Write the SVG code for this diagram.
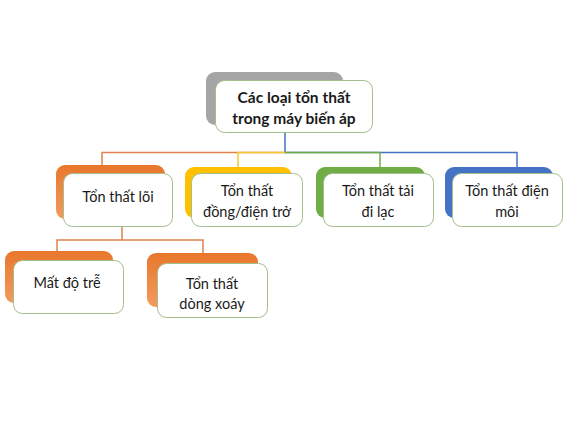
<svg xmlns="http://www.w3.org/2000/svg" width="570" height="428" viewBox="0 0 570 428">
<defs>
<linearGradient id="og" x1="0" y1="0" x2="0" y2="1">
<stop offset="0" stop-color="#E8772C"/>
<stop offset="1" stop-color="#F39A5E"/>
</linearGradient>
</defs>
<style>
.front{fill:#FFFFFF;stroke:#A3BF8E;stroke-width:1}
.t{font-family:Lato,"Liberation Sans",sans-serif;font-size:14.5px;fill:#1a1a1a;text-anchor:middle}
.tb{font-family:Lato,"Liberation Sans",sans-serif;font-size:15.5px;font-weight:bold;fill:#1a1a1a;text-anchor:middle}
.c{fill:none;stroke-width:1.5}
</style>
<rect width="570" height="428" fill="#FFFFFF"/>
<g id="connectors">
<path class="c" stroke="#4472C4" d="M285 133V152.5H517V167"/>
<path class="c" stroke="#70AD47" d="M285 152.5H380V167"/>
<path class="c" stroke="#E0834E" d="M285 152.5H102V165"/>
<path class="c" stroke="#F2C830" d="M285 152.5H238V167"/>
<path class="c" stroke="#E0834E" d="M122 227V240H57V251"/>
<path class="c" stroke="#E0834E" d="M122 240H203V253"/>
</g>
<g id="root">
<rect x="206" y="72" width="137" height="53" rx="9" fill="#A5A5A5"/>
<rect class="front" x="215.5" y="80.5" width="157" height="52" rx="9"/>
<text class="tb" x="294" y="103">Các loại tổn thất</text>
<text class="tb" x="294" y="124">trong máy biến áp</text>
</g>
<g id="node-loi">
<rect x="56" y="165" width="109" height="54" rx="9" fill="url(#og)"/>
<rect class="front" x="63.5" y="173.5" width="109" height="53" rx="9"/>
<text class="t" x="118" y="202">Tổn thất lõi</text>
</g>
<g id="node-dong">
<rect x="185" y="167" width="107" height="51" rx="9" fill="#FFC000"/>
<rect class="front" x="191.5" y="173.5" width="111" height="53" rx="9"/>
<text class="t" x="247" y="196">Tổn thất</text>
<text class="t" x="247" y="217">đồng/điện trở</text>
</g>
<g id="node-tai">
<rect x="316" y="167" width="109" height="51" rx="9" fill="#70AD47"/>
<rect class="front" x="323.5" y="173.5" width="110" height="53" rx="9"/>
<text class="t" x="378" y="196">Tổn thất tải</text>
<text class="t" x="378" y="217">đi lạc</text>
</g>
<g id="node-dien">
<rect x="445" y="167" width="108" height="51" rx="9" fill="#4472C4"/>
<rect class="front" x="452.5" y="173.5" width="110" height="53" rx="9"/>
<text class="t" x="507" y="196">Tổn thất điện</text>
<text class="t" x="507" y="217">môi</text>
</g>
<g id="node-tre">
<rect x="5" y="251" width="108" height="52" rx="9" fill="url(#og)"/>
<rect class="front" x="13.5" y="260.5" width="110" height="53" rx="9"/>
<text class="t" x="67" y="288">Mất độ trễ</text>
</g>
<g id="node-xoay">
<rect x="147" y="253" width="111" height="54" rx="9" fill="url(#og)"/>
<rect class="front" x="157.5" y="263.5" width="110" height="54" rx="9"/>
<text class="t" x="212" y="289">Tổn thất</text>
<text class="t" x="212" y="309">dòng xoáy</text>
</g>
</svg>
